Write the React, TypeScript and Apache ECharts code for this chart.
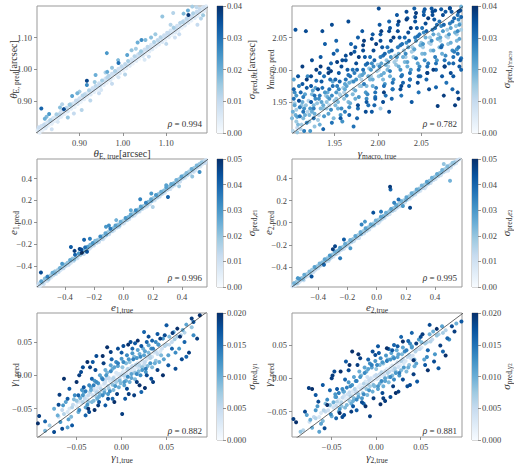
import React, { useEffect, useRef } from 'react';
import * as echarts from 'echarts';

// Each point: [true value, predicted value, predicted sigma]
const thetaEPoints: number[][] = [
  [0.805,0.812,0.006],[0.808,0.801,0.004],[0.812,0.822,0.008],[0.815,0.809,0.003],[0.818,0.826,0.010],[0.822,0.815,0.005],[0.826,0.834,0.007],[0.829,0.823,0.002],[0.833,0.841,0.012],[0.836,0.829,0.004],
  [0.840,0.848,0.006],[0.844,0.838,0.003],[0.847,0.859,0.014],[0.851,0.846,0.005],[0.855,0.862,0.008],[0.858,0.851,0.004],[0.862,0.872,0.009],[0.866,0.860,0.003],[0.870,0.879,0.011],[0.873,0.868,0.006],
  [0.877,0.889,0.015],[0.881,0.876,0.004],[0.885,0.893,0.007],[0.889,0.882,0.003],[0.892,0.902,0.010],[0.896,0.891,0.005],[0.900,0.909,0.008],[0.903,0.897,0.002],[0.907,0.918,0.012],[0.911,0.906,0.004],
  [0.915,0.924,0.006],[0.918,0.913,0.003],[0.922,0.934,0.013],[0.926,0.921,0.005],[0.930,0.941,0.009],[0.934,0.929,0.004],[0.937,0.948,0.011],[0.941,0.936,0.003],[0.945,0.956,0.008],[0.948,0.944,0.005],
  [0.952,0.965,0.014],[0.956,0.951,0.004],[0.960,0.971,0.007],[0.963,0.958,0.003],[0.967,0.980,0.012],[0.971,0.966,0.005],[0.975,0.986,0.009],[0.978,0.973,0.002],[0.982,0.995,0.013],[0.986,0.981,0.004],
  [0.990,1.002,0.008],[0.993,0.988,0.005],[0.997,1.010,0.011],[1.001,0.996,0.003],[1.005,1.017,0.009],[1.008,1.003,0.004],[1.012,1.026,0.014],[1.016,1.011,0.005],[1.020,1.032,0.007],[1.023,1.018,0.003],
  [1.027,1.041,0.012],[1.031,1.026,0.004],[1.035,1.047,0.008],[1.038,1.033,0.002],[1.042,1.057,0.015],[1.046,1.041,0.005],[1.050,1.062,0.009],[1.053,1.048,0.003],[1.057,1.071,0.011],[1.061,1.056,0.004],
  [1.065,1.077,0.007],[1.068,1.063,0.005],[1.072,1.086,0.013],[1.076,1.071,0.003],[1.080,1.092,0.008],[1.083,1.078,0.004],[1.087,1.101,0.012],[1.091,1.086,0.005],[1.095,1.107,0.009],[1.098,1.093,0.003],
  [1.102,1.115,0.010],[1.106,1.101,0.004],[1.110,1.122,0.007],[1.113,1.108,0.002],[1.117,1.131,0.014],[1.121,1.116,0.005],[1.125,1.137,0.008],[1.128,1.123,0.004],[1.132,1.146,0.012],[1.136,1.131,0.003],
  [1.140,1.152,0.009],[1.143,1.138,0.005],[1.147,1.160,0.011],[1.151,1.146,0.004],[1.155,1.167,0.007],[1.158,1.153,0.003],[1.162,1.176,0.013],[1.166,1.161,0.005],[1.170,1.181,0.008],[1.173,1.168,0.004],
  [1.177,1.190,0.010],[1.181,1.176,0.003],[1.185,1.195,0.006],[1.188,1.183,0.004],[1.192,1.198,0.005],
  [0.812,0.877,0.032],[0.820,0.845,0.020],[0.824,0.851,0.018],[0.836,0.812,0.008],[0.864,0.875,0.036],[0.873,0.849,0.016],[0.883,0.916,0.022],[0.887,0.861,0.010],[0.905,0.872,0.012],[0.917,0.964,0.037],
  [0.917,0.951,0.026],[0.925,0.902,0.011],[0.937,0.982,0.020],[0.945,0.925,0.009],[0.963,1.051,0.024],[0.964,0.992,0.021],[0.975,0.955,0.010],[0.989,1.029,0.018],[0.990,1.020,0.030],[1.005,0.984,0.012],
  [1.020,1.060,0.016],[1.034,1.084,0.020],[1.043,1.092,0.026],[1.052,1.092,0.018],[1.060,1.040,0.010],[1.075,1.110,0.015],[1.091,1.166,0.016],[1.100,1.080,0.011],[1.116,1.177,0.012],[1.130,1.110,0.009],
  [1.140,1.175,0.018],[1.151,1.171,0.039],[1.160,1.197,0.014],[1.172,1.140,0.010],[1.180,1.160,0.012],[1.185,1.170,0.015],[0.950,0.935,0.006],[1.010,1.045,0.022],[0.895,0.925,0.019],[0.855,0.880,0.017],
  [0.935,0.960,0.015],[1.065,1.100,0.017],[1.150,1.185,0.020],[0.830,0.860,0.024],[0.975,1.005,0.016],
];
const thetaEPointsB: number[][] = [
  [0.803,0.808,0.003],[0.810,0.815,0.005],[0.817,0.814,0.002],[0.821,0.829,0.006],[0.827,0.826,0.004],[0.832,0.835,0.003],[0.838,0.845,0.007],[0.842,0.840,0.002],[0.849,0.855,0.005],[0.853,0.852,0.003],
  [0.857,0.866,0.008],[0.861,0.858,0.004],[0.868,0.872,0.006],[0.872,0.874,0.002],[0.876,0.880,0.005],[0.880,0.886,0.009],[0.884,0.883,0.003],[0.890,0.896,0.006],[0.894,0.897,0.004],[0.898,0.904,0.007],
  [0.902,0.902,0.003],[0.906,0.912,0.005],[0.910,0.917,0.008],[0.913,0.912,0.002],[0.919,0.926,0.006],[0.923,0.926,0.004],[0.928,0.932,0.005],[0.932,0.939,0.009],[0.936,0.937,0.003],[0.940,0.947,0.006],
  [0.944,0.946,0.002],[0.949,0.955,0.007],[0.953,0.954,0.004],[0.958,0.966,0.008],[0.962,0.963,0.003],[0.966,0.970,0.005],[0.970,0.977,0.007],[0.974,0.975,0.002],[0.979,0.986,0.006],[0.983,0.985,0.004],
  [0.987,0.994,0.008],[0.991,0.992,0.003],[0.995,1.000,0.005],[0.999,1.007,0.009],[1.003,1.005,0.002],[1.007,1.013,0.006],[1.011,1.013,0.004],[1.015,1.022,0.007],[1.019,1.020,0.003],[1.024,1.030,0.006],
  [1.028,1.031,0.002],[1.033,1.041,0.008],[1.037,1.039,0.004],[1.041,1.047,0.005],[1.045,1.052,0.009],[1.049,1.050,0.003],[1.054,1.060,0.006],[1.058,1.061,0.004],[1.062,1.070,0.008],[1.066,1.068,0.002],
  [1.070,1.076,0.005],[1.074,1.081,0.007],[1.078,1.079,0.003],[1.082,1.089,0.006],[1.086,1.088,0.004],[1.090,1.097,0.008],[1.094,1.096,0.002],[1.099,1.105,0.005],[1.103,1.110,0.009],[1.107,1.108,0.003],
  [1.111,1.117,0.006],[1.115,1.118,0.004],[1.119,1.127,0.008],[1.123,1.124,0.002],[1.127,1.133,0.005],[1.131,1.138,0.007],[1.135,1.136,0.003],[1.139,1.146,0.006],[1.144,1.146,0.004],[1.148,1.155,0.008],
  [1.152,1.153,0.002],[1.156,1.162,0.005],[1.160,1.167,0.009],[1.164,1.165,0.003],[1.168,1.175,0.006],[1.172,1.174,0.004],[1.176,1.183,0.008],[1.180,1.182,0.002],[1.184,1.189,0.005],[1.189,1.192,0.004],
  [0.860,0.890,0.012],[0.900,0.930,0.014],[0.960,0.990,0.013],[1.030,1.065,0.014],[1.110,1.140,0.012],[1.170,1.195,0.011],[0.850,0.835,0.006],[0.990,0.975,0.007],[1.120,1.100,0.008],[1.050,1.030,0.006],
];
const thetaEPointsC: number[][] = [
  [0.806,0.818,0.009],[0.814,0.820,0.004],[0.823,0.821,0.006],[0.831,0.838,0.010],[0.839,0.836,0.004],[0.846,0.852,0.007],[0.854,0.858,0.011],[0.863,0.866,0.005],[0.871,0.868,0.003],[0.879,0.890,0.012],
  [0.887,0.890,0.006],[0.895,0.901,0.009],[0.904,0.905,0.004],[0.912,0.922,0.011],[0.920,0.921,0.005],[0.929,0.936,0.008],[0.938,0.943,0.006],[0.946,0.951,0.010],[0.955,0.957,0.004],[0.964,0.974,0.012],
  [0.972,0.972,0.005],[0.981,0.990,0.009],[0.989,0.989,0.003],[0.998,1.004,0.007],[1.006,1.015,0.011],[1.014,1.017,0.005],[1.022,1.027,0.008],[1.030,1.035,0.004],[1.039,1.050,0.012],[1.047,1.049,0.006],
  [1.056,1.064,0.009],[1.064,1.066,0.003],[1.073,1.080,0.007],[1.081,1.091,0.011],[1.089,1.091,0.005],[1.097,1.102,0.008],[1.105,1.114,0.010],[1.114,1.114,0.004],[1.122,1.130,0.009],[1.130,1.132,0.005],
  [1.138,1.149,0.012],[1.146,1.150,0.006],[1.154,1.160,0.008],[1.162,1.164,0.004],[1.171,1.180,0.010],[1.179,1.186,0.006],[1.187,1.194,0.008],
];

const gammaMacroPoints: number[][] = [
  [1.902,1.905,0.012],[1.905,1.930,0.020],[1.903,1.955,0.030],[1.908,1.990,0.035],[1.906,1.920,0.015],[1.909,1.975,0.028],[1.904,1.945,0.022],[1.907,1.910,0.010],[1.905,2.062,0.035],
  [1.912,1.915,0.014],[1.915,1.940,0.025],[1.911,1.965,0.032],[1.918,1.985,0.038],[1.914,1.925,0.018],[1.917,2.060,0.036],[1.913,1.950,0.020],[1.919,1.935,0.012],
  [1.921,1.920,0.015],[1.924,1.935,0.020],[1.927,1.960,0.030],[1.923,1.975,0.034],[1.929,2.000,0.038],[1.926,1.945,0.018],[1.922,1.905,0.024],[1.928,1.955,0.026],
  [1.932,1.930,0.012],[1.935,1.950,0.022],[1.931,1.970,0.036],[1.938,1.990,0.030],[1.934,2.020,0.034],[1.937,1.940,0.016],[1.933,1.915,0.020],[1.939,2.040,0.033],
  [1.941,1.940,0.014],[1.944,1.955,0.024],[1.948,1.975,0.030],[1.943,1.995,0.038],[1.946,2.010,0.032],[1.949,1.925,0.018],[1.942,1.965,0.020],[1.947,2.070,0.036],
  [1.952,1.955,0.016],[1.955,1.970,0.026],[1.951,1.985,0.032],[1.958,2.005,0.036],[1.954,1.940,0.020],[1.957,1.960,0.014],[1.953,2.030,0.030],[1.959,1.920,0.025],
  [1.961,1.965,0.012],[1.964,1.975,0.022],[1.968,1.990,0.030],[1.963,2.015,0.035],[1.966,1.950,0.018],[1.969,2.040,0.032],[1.962,1.935,0.028],[1.967,1.980,0.020],
  [1.972,1.970,0.014],[1.975,1.985,0.025],[1.971,2.000,0.030],[1.978,2.020,0.038],[1.974,1.955,0.020],[1.972,1.912,0.030],[1.977,2.050,0.033],[1.979,1.990,0.018],
  [1.981,1.985,0.012],[1.984,1.995,0.022],[1.988,2.010,0.032],[1.983,2.030,0.036],[1.986,1.965,0.024],[1.989,1.945,0.030],[1.982,2.060,0.034],[1.987,1.975,0.018],
  [1.992,1.990,0.014],[1.995,2.005,0.026],[1.991,2.020,0.030],[1.998,2.040,0.038],[1.994,1.975,0.020],[1.997,1.955,0.032],[2.001,2.095,0.036],[1.993,1.935,0.034],
  [2.001,2.000,0.012],[2.004,2.010,0.022],[2.008,2.025,0.032],[2.003,2.045,0.036],[2.006,1.985,0.018],[2.009,1.960,0.030],[2.002,2.070,0.034],[2.007,1.995,0.020],[2.003,1.940,0.014],
  [2.012,2.005,0.014],[2.015,2.020,0.024],[2.011,2.035,0.030],[2.018,2.050,0.038],[2.014,1.990,0.020],[2.017,1.970,0.028],[2.013,2.075,0.032],[2.013,1.935,0.036],
  [2.021,2.015,0.012],[2.024,2.025,0.020],[2.028,2.040,0.030],[2.023,2.060,0.036],[2.026,2.000,0.025],[2.029,1.980,0.032],[2.022,2.085,0.034],[2.027,1.960,0.030],
  [2.032,2.020,0.014],[2.035,2.035,0.022],[2.031,2.050,0.032],[2.038,2.065,0.038],[2.034,2.005,0.020],[2.037,1.985,0.030],[2.033,2.090,0.036],[2.039,1.950,0.034],
  [2.041,2.030,0.012],[2.044,2.045,0.024],[2.048,2.055,0.030],[2.043,2.075,0.035],[2.046,2.010,0.022],[2.049,1.990,0.032],[2.042,2.095,0.033],[2.047,1.965,0.030],
  [2.052,2.035,0.014],[2.055,2.050,0.020],[2.051,2.065,0.030],[2.058,2.080,0.038],[2.054,2.015,0.026],[2.057,1.995,0.034],[2.053,2.090,0.032],[2.059,1.970,0.036],
  [2.061,2.040,0.012],[2.064,2.055,0.022],[2.068,2.070,0.030],[2.063,2.085,0.036],[2.066,2.020,0.028],[2.067,1.973,0.032],[2.062,2.095,0.034],[2.069,1.944,0.038],
  [2.072,2.045,0.014],[2.075,2.060,0.024],[2.071,2.075,0.030],[2.078,2.090,0.034],[2.074,2.025,0.020],[2.077,2.005,0.036],[2.073,2.035,0.032],[2.079,1.980,0.030],
  [2.081,2.050,0.012],[2.084,2.065,0.022],[2.088,2.080,0.032],[2.083,2.095,0.036],[2.086,2.030,0.026],[2.089,1.945,0.038],[2.082,2.010,0.030],[2.087,1.990,0.034],
  [2.091,2.055,0.014],[2.094,2.070,0.024],[2.092,2.085,0.030],[2.096,2.098,0.020],[2.093,2.035,0.028],[2.095,2.015,0.034],[2.092,1.965,0.036],[2.096,2.000,0.032],
];
const gammaMacroPointsB: number[][] = [
  [1.901,1.925,0.018],[1.904,1.965,0.026],[1.906,1.938,0.014],[1.909,1.952,0.036],[1.903,1.985,0.022],[1.907,1.903,0.016],[1.910,1.928,0.030],
  [1.911,1.908,0.012],[1.914,1.958,0.028],[1.916,1.930,0.020],[1.918,1.972,0.034],[1.913,2.005,0.038],[1.917,1.945,0.016],[1.919,1.990,0.026],
  [1.921,1.930,0.018],[1.923,1.950,0.034],[1.925,1.968,0.022],[1.927,1.912,0.016],[1.929,1.983,0.030],[1.924,2.015,0.036],[1.926,1.940,0.028],
  [1.931,1.922,0.014],[1.933,1.960,0.028],[1.935,1.982,0.034],[1.937,1.945,0.020],[1.939,1.965,0.024],[1.934,2.005,0.038],[1.936,2.060,0.036],
  [1.941,1.950,0.016],[1.943,1.932,0.022],[1.945,1.985,0.030],[1.947,1.960,0.026],[1.949,2.025,0.034],[1.944,1.945,0.012],[1.946,1.998,0.038],
  [1.951,1.945,0.018],[1.953,1.975,0.028],[1.955,1.995,0.034],[1.957,1.930,0.024],[1.959,2.015,0.036],[1.952,2.045,0.032],[1.956,1.962,0.014],
  [1.961,1.955,0.016],[1.963,1.985,0.030],[1.965,2.000,0.034],[1.967,1.942,0.026],[1.969,2.025,0.038],[1.962,1.970,0.020],[1.966,2.075,0.036],
  [1.971,1.962,0.018],[1.973,1.995,0.028],[1.975,2.010,0.036],[1.977,1.940,0.030],[1.979,1.975,0.014],[1.974,2.035,0.034],[1.976,1.925,0.032],
  [1.981,1.975,0.016],[1.983,2.000,0.030],[1.985,2.020,0.034],[1.987,1.955,0.026],[1.989,1.990,0.020],[1.984,2.045,0.038],[1.986,1.935,0.036],
  [1.991,1.985,0.018],[1.993,2.010,0.026],[1.995,2.030,0.036],[1.997,1.965,0.030],[1.999,1.998,0.014],[1.994,2.055,0.034],[1.996,1.945,0.032],
  [2.001,1.990,0.016],[2.003,2.020,0.028],[2.005,2.035,0.034],[2.007,1.975,0.030],[2.009,2.008,0.020],[2.004,2.060,0.038],[2.006,1.950,0.036],
  [2.011,2.000,0.018],[2.013,2.028,0.026],[2.015,2.045,0.036],[2.017,1.980,0.030],[2.019,2.012,0.014],[2.014,2.065,0.034],[2.016,1.955,0.032],
  [2.021,2.008,0.016],[2.023,2.035,0.028],[2.025,2.050,0.034],[2.027,1.990,0.030],[2.029,2.020,0.020],[2.024,2.075,0.038],[2.026,1.970,0.036],
  [2.031,2.012,0.018],[2.033,2.042,0.026],[2.035,2.058,0.036],[2.037,1.995,0.030],[2.039,2.028,0.014],[2.034,2.080,0.034],[2.036,1.975,0.032],
  [2.041,2.020,0.016],[2.043,2.050,0.028],[2.045,2.065,0.034],[2.047,2.000,0.030],[2.049,2.038,0.020],[2.044,2.088,0.038],[2.046,1.980,0.036],
  [2.051,2.025,0.018],[2.053,2.058,0.026],[2.055,2.072,0.036],[2.057,2.005,0.030],[2.059,2.042,0.014],[2.054,2.094,0.034],[2.056,1.985,0.032],
  [2.061,2.030,0.016],[2.063,2.062,0.028],[2.065,2.078,0.034],[2.067,2.010,0.030],[2.069,2.048,0.020],[2.064,2.000,0.038],[2.066,2.092,0.036],
  [2.071,2.035,0.018],[2.073,2.068,0.026],[2.075,2.085,0.036],[2.077,2.015,0.030],[2.079,2.052,0.014],[2.074,1.990,0.034],[2.076,1.960,0.038],
  [2.081,2.040,0.016],[2.083,2.072,0.028],[2.085,2.090,0.034],[2.087,2.020,0.030],[2.089,2.058,0.020],[2.084,1.995,0.036],[2.086,1.970,0.032],
  [2.091,2.045,0.018],[2.093,2.078,0.026],[2.095,2.092,0.036],[2.092,2.025,0.030],[2.096,2.062,0.014],[2.094,2.005,0.034],[2.093,1.955,0.038],
];
const gammaMacroPointsC: number[][] = [
  [1.902,1.935,0.020],[1.904,1.948,0.014],[1.906,1.960,0.024],[1.908,1.915,0.018],[1.910,1.942,0.028],[1.903,1.970,0.032],[1.907,1.927,0.022],
  [1.912,1.945,0.016],[1.914,1.935,0.030],[1.916,1.962,0.022],[1.918,1.918,0.026],[1.920,1.952,0.012],[1.913,1.978,0.034],[1.915,1.905,0.028],
  [1.922,1.940,0.024],[1.924,1.962,0.018],[1.926,1.925,0.030],[1.928,1.972,0.022],[1.930,1.948,0.016],[1.923,1.990,0.036],[1.927,1.932,0.020],
  [1.932,1.955,0.026],[1.934,1.940,0.018],[1.936,1.972,0.030],[1.938,1.928,0.024],[1.940,1.960,0.014],[1.933,1.995,0.034],[1.937,1.908,0.032],
  [1.942,1.958,0.020],[1.944,1.970,0.030],[1.946,1.938,0.026],[1.948,1.982,0.022],[1.950,1.952,0.016],[1.943,2.002,0.036],[1.947,1.918,0.030],
  [1.952,1.965,0.024],[1.954,1.950,0.018],[1.956,1.982,0.032],[1.958,1.940,0.026],[1.960,1.972,0.014],[1.953,2.012,0.038],[1.957,1.925,0.034],
  [1.962,1.978,0.022],[1.964,1.960,0.026],[1.966,1.992,0.030],[1.968,1.948,0.020],[1.970,1.982,0.016],[1.963,2.022,0.036],[1.967,1.930,0.032],
  [1.972,1.982,0.026],[1.974,1.968,0.020],[1.976,2.000,0.032],[1.978,1.958,0.024],[1.980,1.992,0.014],[1.973,2.028,0.034],[1.977,1.945,0.036],
  [1.982,1.992,0.022],[1.984,1.978,0.028],[1.986,2.008,0.030],[1.988,1.962,0.026],[1.990,2.002,0.016],[1.983,2.038,0.038],[1.987,1.950,0.034],
  [1.992,2.000,0.024],[1.994,1.985,0.020],[1.996,2.015,0.032],[1.998,1.972,0.028],[2.000,2.008,0.014],[1.993,2.048,0.036],[1.997,1.958,0.030],
  [2.002,2.005,0.026],[2.004,1.992,0.020],[2.006,2.022,0.030],[2.008,1.978,0.024],[2.010,2.015,0.016],[2.003,2.055,0.034],[2.007,1.965,0.038],
  [2.012,2.012,0.022],[2.014,1.998,0.028],[2.016,2.030,0.032],[2.018,1.985,0.026],[2.020,2.022,0.014],[2.013,2.060,0.036],[2.017,1.970,0.030],
  [2.022,2.020,0.024],[2.024,2.005,0.020],[2.026,2.038,0.030],[2.028,1.992,0.028],[2.030,2.030,0.016],[2.023,2.070,0.034],[2.027,1.975,0.036],
  [2.032,2.025,0.026],[2.034,2.012,0.022],[2.036,2.045,0.032],[2.038,2.000,0.024],[2.040,2.035,0.014],[2.033,2.078,0.038],[2.037,1.985,0.030],
  [2.042,2.032,0.022],[2.044,2.018,0.028],[2.046,2.052,0.030],[2.048,2.005,0.026],[2.050,2.042,0.016],[2.043,2.082,0.036],[2.047,1.990,0.034],
  [2.052,2.040,0.024],[2.054,2.025,0.020],[2.056,2.060,0.032],[2.058,2.010,0.028],[2.060,2.050,0.014],[2.053,2.085,0.034],[2.057,1.995,0.038],
  [2.062,2.045,0.026],[2.064,2.030,0.022],[2.066,2.065,0.030],[2.068,2.015,0.024],[2.070,2.055,0.016],[2.063,2.090,0.036],[2.067,2.000,0.032],
  [2.072,2.050,0.022],[2.074,2.038,0.028],[2.076,2.070,0.032],[2.078,2.022,0.026],[2.080,2.062,0.014],[2.073,2.094,0.034],[2.077,2.005,0.038],
  [2.082,2.055,0.024],[2.084,2.042,0.020],[2.086,2.075,0.030],[2.088,2.028,0.028],[2.090,2.068,0.016],[2.083,2.096,0.036],[2.087,2.010,0.032],
  [2.092,2.060,0.026],[2.094,2.048,0.022],[2.096,2.082,0.032],[2.091,2.032,0.024],[2.095,2.072,0.014],[2.093,2.090,0.036],[2.096,2.018,0.030],
];

const e1Points: number[][] = [
  [-0.580,-0.560,0.012],[-0.572,-0.585,0.008],[-0.563,-0.540,0.028],[-0.555,-0.548,0.015],[-0.546,-0.565,0.010],[-0.538,-0.515,0.022],[-0.530,-0.531,0.006],[-0.521,-0.498,0.035],[-0.512,-0.525,0.012],[-0.503,-0.490,0.018],
  [-0.495,-0.505,0.008],[-0.486,-0.462,0.025],[-0.478,-0.482,0.014],[-0.470,-0.450,0.020],[-0.461,-0.474,0.009],[-0.452,-0.440,0.016],[-0.444,-0.455,0.011],[-0.435,-0.418,0.024],[-0.427,-0.432,0.007],[-0.418,-0.402,0.019],
  [-0.410,-0.422,0.013],[-0.401,-0.388,0.021],[-0.392,-0.398,0.010],[-0.384,-0.372,0.017],[-0.375,-0.389,0.012],[-0.366,-0.345,0.026],[-0.358,-0.360,0.008],[-0.349,-0.331,0.020],[-0.340,-0.352,0.014],[-0.332,-0.298,0.040],
  [-0.323,-0.318,0.018],[-0.315,-0.330,0.010],[-0.306,-0.285,0.030],[-0.297,-0.302,0.015],[-0.289,-0.250,0.045],[-0.280,-0.275,0.020],[-0.271,-0.290,0.012],[-0.263,-0.230,0.038],[-0.254,-0.259,0.016],[-0.246,-0.225,0.028],
  [-0.237,-0.248,0.010],[-0.228,-0.205,0.024],[-0.220,-0.222,0.013],[-0.211,-0.190,0.030],[-0.202,-0.212,0.009],[-0.194,-0.170,0.022],[-0.185,-0.188,0.015],[-0.176,-0.160,0.018],[-0.168,-0.180,0.011],[-0.159,-0.130,0.033],
  [-0.150,-0.152,0.014],[-0.142,-0.125,0.020],[-0.133,-0.145,0.008],[-0.124,-0.100,0.027],[-0.116,-0.118,0.013],[-0.107,-0.090,0.019],[-0.098,-0.110,0.010],[-0.090,-0.060,0.036],[-0.081,-0.079,0.016],[-0.072,-0.055,0.022],
  [-0.064,-0.072,0.009],[-0.055,-0.030,0.028],[-0.046,-0.049,0.014],[-0.038,-0.020,0.020],[-0.029,-0.040,0.011],[-0.020,0.005,0.025],[-0.012,-0.010,0.013],[-0.003,0.015,0.018],[0.006,-0.005,0.008],[0.014,0.040,0.030],
  [0.023,0.021,0.015],[0.032,0.048,0.020],[0.040,0.030,0.010],[0.049,0.072,0.026],[0.058,0.055,0.013],[0.066,0.082,0.018],[0.075,0.062,0.009],[0.084,0.110,0.032],[0.092,0.090,0.015],[0.101,0.118,0.021],
  [0.110,0.098,0.011],[0.118,0.145,0.028],[0.127,0.125,0.014],[0.136,0.150,0.019],[0.144,0.132,0.008],[0.153,0.180,0.034],[0.162,0.160,0.016],[0.170,0.188,0.022],[0.179,0.166,0.010],[0.188,0.212,0.027],
  [0.196,0.194,0.013],[0.205,0.222,0.018],[0.214,0.201,0.009],[0.222,0.250,0.030],[0.231,0.229,0.015],[0.240,0.255,0.020],[0.248,0.236,0.011],[0.257,0.280,0.025],[0.266,0.262,0.012],[0.274,0.290,0.017],
  [0.283,0.270,0.008],[0.292,0.318,0.028],[0.300,0.298,0.014],[0.309,0.325,0.021],[0.318,0.305,0.010],[0.326,0.350,0.026],[0.335,0.332,0.013],[0.344,0.360,0.019],[0.352,0.340,0.009],[0.361,0.388,0.024],
  [0.370,0.366,0.015],[0.378,0.395,0.018],[0.387,0.374,0.011],[0.396,0.420,0.027],[0.404,0.400,0.012],[0.413,0.428,0.020],[0.422,0.408,0.008],[0.430,0.452,0.022],[0.439,0.435,0.014],[0.448,0.465,0.017],
  [0.456,0.444,0.010],[0.465,0.488,0.025],[0.474,0.470,0.013],[0.482,0.498,0.019],[0.491,0.478,0.009],[0.500,0.520,0.023],[0.508,0.505,0.011],[0.517,0.532,0.016],[0.526,0.512,0.008],[0.534,0.550,0.020],
  [0.543,0.540,0.010],[0.552,0.562,0.014],[0.560,0.568,0.006],
  [-0.565,-0.460,0.045],[-0.360,-0.226,0.042],[-0.335,-0.262,0.048],[-0.300,-0.245,0.046],[-0.270,-0.160,0.040],[-0.230,-0.150,0.035],[-0.285,-0.280,0.050],[-0.250,-0.270,0.044],[-0.120,-0.040,0.030],[-0.100,-0.030,0.032],
  [0.114,0.211,0.034],[0.190,0.263,0.030],[0.292,0.339,0.028],[0.304,0.232,0.040],[0.520,0.461,0.032],[0.470,0.420,0.020],[0.050,0.110,0.026],[-0.050,0.020,0.024],[0.200,0.140,0.016],[-0.420,-0.380,0.030],[0.380,0.330,0.018],
];
const e1PointsB: number[][] = [
  [-0.585,-0.578,0.006],[-0.568,-0.560,0.010],[-0.551,-0.540,0.014],[-0.534,-0.540,0.008],[-0.517,-0.508,0.012],[-0.500,-0.495,0.016],[-0.483,-0.490,0.006],[-0.466,-0.458,0.010],[-0.449,-0.441,0.018],[-0.432,-0.440,0.008],
  [-0.415,-0.410,0.012],[-0.398,-0.390,0.015],[-0.381,-0.388,0.007],[-0.364,-0.356,0.011],[-0.347,-0.338,0.017],[-0.330,-0.336,0.009],[-0.313,-0.305,0.013],[-0.296,-0.286,0.020],[-0.279,-0.286,0.008],[-0.262,-0.255,0.014],
  [-0.245,-0.235,0.018],[-0.228,-0.236,0.009],[-0.211,-0.203,0.012],[-0.194,-0.184,0.016],[-0.177,-0.184,0.007],[-0.160,-0.152,0.011],[-0.143,-0.134,0.019],[-0.126,-0.133,0.008],[-0.109,-0.100,0.013],[-0.092,-0.083,0.017],
  [-0.075,-0.082,0.009],[-0.058,-0.050,0.012],[-0.041,-0.032,0.018],[-0.024,-0.030,0.007],[-0.007,0.002,0.011],[0.010,0.018,0.016],[0.027,0.020,0.008],[0.044,0.052,0.013],[0.061,0.070,0.019],[0.078,0.072,0.009],
  [0.095,0.104,0.012],[0.112,0.120,0.017],[0.129,0.122,0.007],[0.146,0.155,0.011],[0.163,0.172,0.018],[0.180,0.173,0.009],[0.197,0.206,0.013],[0.214,0.224,0.016],[0.231,0.224,0.008],[0.248,0.256,0.012],
  [0.265,0.274,0.019],[0.282,0.276,0.007],[0.299,0.308,0.011],[0.316,0.325,0.017],[0.333,0.326,0.009],[0.350,0.358,0.013],[0.367,0.376,0.016],[0.384,0.377,0.008],[0.401,0.410,0.012],[0.418,0.428,0.018],
  [0.435,0.428,0.007],[0.452,0.460,0.011],[0.469,0.478,0.017],[0.486,0.480,0.009],[0.503,0.511,0.013],[0.520,0.528,0.016],[0.537,0.532,0.008],[0.554,0.548,0.012],[0.565,0.570,0.010],
  [-0.520,-0.535,0.010],[-0.440,-0.425,0.014],[-0.360,-0.372,0.009],[-0.200,-0.185,0.015],[-0.140,-0.155,0.010],[-0.060,-0.045,0.016],[0.000,-0.012,0.009],[0.080,0.095,0.015],[0.160,0.145,0.010],[0.240,0.262,0.016],
  [0.320,0.305,0.010],[0.400,0.420,0.016],[0.480,0.462,0.010],[0.560,0.545,0.012],
];
const e1PointsC: number[][] = [
  [-0.576,-0.566,0.014],[-0.558,-0.552,0.018],[-0.536,-0.528,0.012],[-0.514,-0.518,0.020],[-0.492,-0.480,0.014],[-0.470,-0.466,0.022],[-0.448,-0.452,0.012],[-0.426,-0.414,0.018],[-0.404,-0.404,0.014],[-0.382,-0.370,0.020],
  [-0.360,-0.352,0.016],[-0.338,-0.340,0.022],[-0.316,-0.302,0.014],[-0.294,-0.292,0.018],[-0.272,-0.262,0.024],[-0.250,-0.246,0.014],[-0.228,-0.214,0.020],[-0.206,-0.204,0.016],[-0.184,-0.172,0.022],[-0.162,-0.160,0.014],
  [-0.140,-0.128,0.018],[-0.118,-0.112,0.024],[-0.096,-0.096,0.014],[-0.074,-0.062,0.020],[-0.052,-0.044,0.016],[-0.030,-0.028,0.022],[-0.008,0.006,0.014],[0.014,0.020,0.018],[0.036,0.046,0.024],[0.058,0.062,0.014],
  [0.080,0.090,0.020],[0.102,0.104,0.016],[0.124,0.136,0.022],[0.146,0.148,0.014],[0.168,0.178,0.018],[0.190,0.196,0.024],[0.212,0.214,0.014],[0.234,0.246,0.020],[0.256,0.260,0.016],[0.278,0.290,0.022],
  [0.300,0.304,0.014],[0.322,0.334,0.018],[0.344,0.350,0.024],[0.366,0.368,0.014],[0.388,0.400,0.020],[0.410,0.414,0.016],[0.432,0.444,0.022],[0.454,0.458,0.014],[0.476,0.488,0.018],[0.498,0.500,0.014],
  [0.520,0.532,0.020],[0.542,0.548,0.012],
];

const e2Points: number[][] = [
  [-0.575,-0.570,0.010],[-0.566,-0.545,0.024],[-0.557,-0.562,0.008],[-0.548,-0.530,0.018],[-0.540,-0.548,0.012],[-0.531,-0.505,0.030],[-0.522,-0.520,0.014],[-0.513,-0.498,0.020],[-0.505,-0.512,0.009],[-0.496,-0.470,0.026],
  [-0.487,-0.490,0.011],[-0.478,-0.462,0.017],[-0.470,-0.480,0.007],[-0.461,-0.440,0.022],[-0.452,-0.455,0.013],[-0.443,-0.425,0.019],[-0.435,-0.446,0.010],[-0.426,-0.400,0.028],[-0.417,-0.420,0.012],[-0.408,-0.392,0.020],
  [-0.400,-0.410,0.008],[-0.391,-0.368,0.024],[-0.382,-0.385,0.014],[-0.373,-0.356,0.018],[-0.365,-0.376,0.011],[-0.356,-0.330,0.027],[-0.347,-0.350,0.013],[-0.338,-0.320,0.021],[-0.330,-0.342,0.009],[-0.321,-0.295,0.030],
  [-0.312,-0.315,0.016],[-0.303,-0.286,0.020],[-0.295,-0.305,0.010],[-0.286,-0.260,0.025],[-0.277,-0.280,0.014],[-0.268,-0.252,0.018],[-0.260,-0.270,0.009],[-0.251,-0.225,0.028],[-0.242,-0.245,0.012],[-0.233,-0.218,0.019],
  [-0.225,-0.236,0.010],[-0.216,-0.190,0.026],[-0.207,-0.210,0.013],[-0.198,-0.182,0.017],[-0.190,-0.201,0.008],[-0.181,-0.155,0.024],[-0.172,-0.175,0.014],[-0.163,-0.148,0.020],[-0.155,-0.166,0.011],[-0.146,-0.120,0.027],
  [-0.137,-0.140,0.012],[-0.128,-0.112,0.018],[-0.120,-0.131,0.009],[-0.111,-0.085,0.025],[-0.102,-0.105,0.013],[-0.093,-0.076,0.019],[-0.085,-0.096,0.010],[-0.076,-0.050,0.028],[-0.067,-0.070,0.015],[-0.058,-0.042,0.021],
  [-0.050,-0.061,0.011],[-0.041,-0.015,0.026],[-0.032,-0.035,0.012],[-0.023,-0.006,0.018],[-0.015,-0.026,0.009],[-0.006,0.020,0.024],[0.003,0.000,0.013],[0.012,0.028,0.019],[0.020,0.009,0.010],[0.029,0.055,0.027],
  [0.038,0.035,0.014],[0.047,0.063,0.020],[0.055,0.044,0.011],[0.064,0.090,0.025],[0.073,0.070,0.013],[0.082,0.098,0.018],[0.090,0.079,0.009],[0.099,0.125,0.028],[0.108,0.105,0.015],[0.117,0.133,0.020],
  [0.125,0.114,0.010],[0.134,0.160,0.026],[0.143,0.140,0.012],[0.152,0.168,0.019],[0.160,0.149,0.008],[0.169,0.195,0.024],[0.178,0.175,0.014],[0.187,0.203,0.017],[0.195,0.184,0.010],[0.204,0.230,0.027],
  [0.213,0.210,0.013],[0.222,0.238,0.019],[0.230,0.219,0.009],[0.239,0.265,0.025],[0.248,0.245,0.015],[0.257,0.273,0.020],[0.265,0.254,0.011],[0.274,0.300,0.026],[0.283,0.280,0.012],[0.292,0.308,0.018],
  [0.300,0.289,0.009],[0.309,0.335,0.024],[0.318,0.315,0.014],[0.327,0.343,0.019],[0.335,0.324,0.010],[0.344,0.370,0.028],[0.353,0.350,0.013],[0.362,0.378,0.020],[0.370,0.359,0.011],[0.379,0.405,0.025],
  [0.388,0.385,0.012],[0.397,0.413,0.017],[0.405,0.394,0.009],[0.414,0.440,0.026],[0.423,0.420,0.014],[0.432,0.448,0.019],[0.440,0.429,0.010],[0.449,0.475,0.024],[0.458,0.455,0.013],[0.467,0.483,0.018],
  [0.475,0.464,0.008],[0.484,0.510,0.022],[0.493,0.490,0.012],[0.502,0.518,0.016],[0.510,0.499,0.009],[0.519,0.540,0.020],[0.528,0.525,0.011],[0.537,0.550,0.014],[0.545,0.536,0.007],[0.554,0.565,0.012],
  [0.570,0.572,0.006],
  [0.092,0.324,0.048],[0.095,0.300,0.040],[0.229,0.136,0.046],[-0.023,0.091,0.044],[-0.361,-0.379,0.040],[-0.285,-0.213,0.046],[-0.300,-0.240,0.048],[-0.224,-0.152,0.042],[-0.446,-0.485,0.044],[0.503,0.378,0.024],
  [0.460,0.530,0.020],[-0.103,-0.016,0.034],[-0.080,0.010,0.030],[0.150,0.210,0.038],[0.180,0.150,0.030],[-0.250,-0.320,0.036],[-0.540,-0.500,0.030],[0.030,0.100,0.036],[0.120,0.180,0.034],[-0.180,-0.230,0.030],
];
const e2PointsB: number[][] = [
  [-0.578,-0.575,0.005],[-0.561,-0.552,0.011],[-0.544,-0.536,0.015],[-0.527,-0.533,0.007],[-0.510,-0.502,0.013],[-0.493,-0.484,0.017],[-0.476,-0.482,0.008],[-0.459,-0.451,0.012],[-0.442,-0.432,0.018],[-0.425,-0.431,0.009],
  [-0.408,-0.400,0.011],[-0.391,-0.382,0.016],[-0.374,-0.380,0.007],[-0.357,-0.349,0.013],[-0.340,-0.330,0.019],[-0.323,-0.329,0.008],[-0.306,-0.298,0.012],[-0.289,-0.280,0.015],[-0.272,-0.278,0.009],[-0.255,-0.247,0.013],
  [-0.238,-0.228,0.017],[-0.221,-0.227,0.007],[-0.204,-0.196,0.011],[-0.187,-0.177,0.018],[-0.170,-0.176,0.008],[-0.153,-0.145,0.012],[-0.136,-0.126,0.016],[-0.119,-0.125,0.009],[-0.102,-0.094,0.013],[-0.085,-0.075,0.019],
  [-0.068,-0.074,0.007],[-0.051,-0.043,0.011],[-0.034,-0.024,0.017],[-0.017,-0.023,0.008],[0.000,0.008,0.012],[0.017,0.027,0.016],[0.034,0.028,0.009],[0.051,0.059,0.013],[0.068,0.078,0.018],[0.085,0.079,0.007],
  [0.102,0.110,0.011],[0.119,0.129,0.017],[0.136,0.130,0.008],[0.153,0.161,0.012],[0.170,0.180,0.016],[0.187,0.181,0.009],[0.204,0.212,0.013],[0.221,0.231,0.019],[0.238,0.232,0.007],[0.255,0.263,0.011],
  [0.272,0.282,0.017],[0.289,0.283,0.008],[0.306,0.314,0.012],[0.323,0.333,0.016],[0.340,0.334,0.009],[0.357,0.365,0.013],[0.374,0.384,0.018],[0.391,0.385,0.007],[0.408,0.416,0.011],[0.425,0.435,0.017],
  [0.442,0.436,0.008],[0.459,0.467,0.012],[0.476,0.486,0.016],[0.493,0.487,0.009],[0.510,0.518,0.013],[0.527,0.537,0.015],[0.544,0.538,0.008],[0.561,0.568,0.010],
  [-0.500,-0.520,0.012],[-0.420,-0.405,0.015],[-0.330,-0.345,0.010],[-0.180,-0.165,0.016],[-0.120,-0.138,0.010],[-0.040,-0.025,0.015],[0.010,-0.005,0.009],[0.090,0.108,0.016],[0.170,0.152,0.010],[0.250,0.268,0.015],
  [0.330,0.312,0.010],[0.410,0.428,0.016],[0.490,0.470,0.010],[0.550,0.560,0.012],
];
const e2PointsC: number[][] = [
  [-0.570,-0.558,0.016],[-0.548,-0.544,0.020],[-0.526,-0.518,0.012],[-0.504,-0.508,0.022],[-0.482,-0.470,0.014],[-0.460,-0.458,0.018],[-0.438,-0.440,0.012],[-0.416,-0.404,0.020],[-0.394,-0.392,0.014],[-0.372,-0.362,0.022],
  [-0.350,-0.344,0.016],[-0.328,-0.330,0.020],[-0.306,-0.292,0.014],[-0.284,-0.282,0.018],[-0.262,-0.250,0.024],[-0.240,-0.236,0.014],[-0.218,-0.206,0.020],[-0.196,-0.194,0.016],[-0.174,-0.162,0.022],[-0.152,-0.150,0.014],
  [-0.130,-0.118,0.018],[-0.108,-0.102,0.024],[-0.086,-0.086,0.014],[-0.064,-0.052,0.020],[-0.042,-0.034,0.016],[-0.020,-0.018,0.022],[0.002,0.016,0.014],[0.024,0.030,0.018],[0.046,0.056,0.024],[0.068,0.072,0.014],
  [0.090,0.100,0.020],[0.112,0.114,0.016],[0.134,0.146,0.022],[0.156,0.158,0.014],[0.178,0.188,0.018],[0.200,0.206,0.024],[0.222,0.224,0.014],[0.244,0.256,0.020],[0.266,0.270,0.016],[0.288,0.300,0.022],
  [0.310,0.314,0.014],[0.332,0.344,0.018],[0.354,0.360,0.024],[0.376,0.378,0.014],[0.398,0.410,0.020],[0.420,0.424,0.016],[0.442,0.454,0.022],[0.464,0.468,0.014],[0.486,0.498,0.018],[0.508,0.510,0.014],
  [0.530,0.542,0.020],[0.552,0.556,0.012],
];

const gamma1Points: number[][] = [
  [-0.070,-0.062,0.004],[-0.064,-0.058,0.006],[-0.058,-0.050,0.003],[-0.054,-0.044,0.005],[-0.050,-0.046,0.002],[-0.046,-0.038,0.004],[-0.043,-0.040,0.006],[-0.040,-0.032,0.003],[-0.037,-0.030,0.005],[-0.034,-0.028,0.002],
  [-0.031,-0.022,0.004],[-0.028,-0.026,0.006],[-0.026,-0.018,0.003],[-0.023,-0.020,0.005],[-0.020,-0.014,0.002],[-0.018,-0.010,0.004],[-0.015,-0.016,0.006],[-0.013,-0.008,0.003],[-0.010,-0.006,0.005],[-0.008,-0.002,0.002],
  [-0.005,-0.007,0.004],[-0.003,0.002,0.003],[0.000,0.000,0.005],[0.002,0.006,0.002],[0.005,0.002,0.004],[0.007,0.010,0.006],[0.010,0.007,0.003],[0.012,0.014,0.005],[0.015,0.011,0.002],[0.018,0.018,0.004],
  [0.020,0.015,0.006],[0.023,0.022,0.003],[0.026,0.020,0.005],[0.029,0.028,0.004],[0.032,0.026,0.006],[0.036,0.034,0.003],[0.040,0.032,0.005],[0.045,0.040,0.004],[0.050,0.046,0.006],[0.056,0.050,0.005],
  [0.062,0.058,0.007],[0.070,0.064,0.006],[0.078,0.072,0.008],[-0.080,-0.075,0.007],[-0.006,0.004,0.003],[0.004,-0.004,0.004],[-0.017,-0.005,0.005],[0.013,0.004,0.004],
  [-0.075,-0.050,0.010],[-0.068,-0.070,0.012],[-0.062,-0.040,0.011],[-0.056,-0.062,0.009],[-0.052,-0.030,0.013],[-0.048,-0.055,0.010],[-0.044,-0.022,0.012],[-0.040,-0.048,0.011],[-0.036,-0.015,0.013],[-0.033,-0.040,0.009],
  [-0.030,-0.008,0.012],[-0.027,-0.035,0.010],[-0.024,0.000,0.011],[-0.021,-0.030,0.013],[-0.018,0.008,0.010],[-0.015,-0.028,0.012],[-0.012,0.015,0.011],[-0.009,-0.022,0.009],[-0.006,0.020,0.013],[-0.003,-0.018,0.010],
  [0.000,0.025,0.012],[0.003,-0.015,0.011],[0.006,0.030,0.013],[0.009,-0.010,0.010],[0.012,0.033,0.012],[0.015,-0.006,0.009],[0.018,0.038,0.011],[0.021,0.000,0.013],[0.024,0.040,0.010],[0.027,0.005,0.012],
  [0.030,0.045,0.011],[0.034,0.012,0.009],[0.038,0.050,0.013],[0.042,0.020,0.010],[0.046,0.055,0.012],[0.052,0.030,0.011],[0.058,0.065,0.010],[0.064,0.040,0.012],[0.072,0.076,0.011],[0.080,0.060,0.013],
  [-0.060,-0.078,0.011],[-0.085,-0.083,0.009],
  [-0.0916,-0.061,0.019],[-0.093,-0.072,0.020],[-0.085,-0.069,0.016],[-0.070,-0.044,0.018],[-0.064,-0.005,0.020],[-0.069,-0.029,0.019],[-0.058,-0.020,0.017],[-0.050,-0.010,0.020],[-0.045,0.005,0.018],[-0.040,-0.060,0.016],
  [-0.035,0.012,0.019],[-0.030,-0.052,0.020],[-0.028,0.029,0.018],[-0.021,0.029,0.020],[-0.018,-0.045,0.017],[-0.012,0.035,0.019],[-0.008,-0.040,0.020],[-0.004,0.040,0.018],[0.0007,-0.058,0.019],[0.0074,0.046,0.020],
  [0.004,-0.035,0.017],[0.010,0.050,0.018],[0.014,-0.030,0.019],[0.018,0.052,0.020],[0.022,-0.025,0.016],[0.026,-0.019,0.020],[0.030,0.058,0.018],[0.035,-0.010,0.019],[0.040,0.062,0.017],[0.046,0.000,0.020],
  [0.0567,0.0634,0.019],[0.065,0.058,0.020],[0.067,0.024,0.018],[0.075,0.034,0.019],[0.087,0.090,0.020],[0.080,0.080,0.017],[0.070,0.050,0.016],[0.060,0.010,0.018],[-0.055,-0.075,0.017],[-0.075,-0.085,0.018],
  [0.050,0.075,0.017],[0.084,0.055,0.019],[-0.038,0.020,0.020],[0.025,0.065,0.016],
];
const gamma1PointsB: number[][] = [
  [-0.066,-0.052,0.005],[-0.060,-0.055,0.003],[-0.055,-0.048,0.006],[-0.049,-0.040,0.004],[-0.045,-0.042,0.002],[-0.041,-0.035,0.005],[-0.038,-0.036,0.003],[-0.035,-0.025,0.006],[-0.032,-0.030,0.004],[-0.029,-0.020,0.002],
  [-0.027,-0.024,0.005],[-0.024,-0.016,0.003],[-0.022,-0.022,0.006],[-0.019,-0.012,0.004],[-0.016,-0.018,0.002],[-0.014,-0.004,0.005],[-0.011,-0.012,0.003],[-0.009,-0.004,0.006],[-0.007,-0.010,0.004],[-0.004,0.000,0.002],
  [-0.002,-0.005,0.005],[0.001,0.004,0.003],[0.003,0.000,0.006],[0.006,0.008,0.004],[0.008,0.003,0.002],[0.011,0.012,0.005],[0.014,0.008,0.003],[0.016,0.016,0.006],[0.019,0.012,0.004],[0.022,0.020,0.002],
  [0.025,0.016,0.005],[0.028,0.024,0.003],[0.031,0.030,0.006],[0.034,0.028,0.004],[0.038,0.036,0.005],[0.043,0.036,0.003],[0.048,0.044,0.006],[0.053,0.046,0.005],[0.059,0.054,0.007],[0.066,0.060,0.006],
  [-0.071,-0.060,0.010],[-0.065,-0.045,0.012],[-0.059,-0.066,0.011],[-0.053,-0.036,0.009],[-0.047,-0.052,0.013],[-0.042,-0.026,0.010],[-0.038,-0.044,0.012],[-0.034,-0.018,0.011],[-0.031,-0.038,0.009],[-0.028,-0.010,0.013],
  [-0.025,-0.032,0.010],[-0.022,-0.004,0.012],[-0.019,-0.026,0.011],[-0.016,0.004,0.009],[-0.013,-0.024,0.013],[-0.010,0.010,0.010],[-0.007,-0.016,0.012],[-0.004,0.014,0.011],[-0.001,-0.012,0.009],[0.002,0.020,0.013],
  [0.005,-0.008,0.010],[0.008,0.024,0.012],[0.011,-0.004,0.011],[0.014,0.028,0.009],[0.017,0.002,0.013],[0.020,0.032,0.010],[0.023,0.008,0.012],[0.026,0.036,0.011],[0.029,0.014,0.009],[0.033,0.040,0.013],
  [0.037,0.018,0.010],[0.041,0.046,0.012],[0.047,0.024,0.011],[0.053,0.058,0.009],[0.060,0.034,0.013],[0.068,0.068,0.010],
  [-0.048,-0.030,0.016],[-0.043,0.012,0.018],[-0.037,-0.050,0.020],[-0.032,0.020,0.017],[-0.026,-0.045,0.019],[-0.016,0.042,0.020],[-0.010,-0.035,0.016],[0.002,0.044,0.018],[0.008,-0.028,0.019],[0.015,0.048,0.017],
  [0.020,-0.015,0.020],[0.028,0.050,0.016],[0.033,-0.005,0.018],[0.043,0.055,0.019],[0.052,0.015,0.017],[0.062,0.070,0.020],[0.072,0.028,0.016],[0.078,0.085,0.019],[-0.060,-0.035,0.017],[-0.066,-0.080,0.018],
];
const gamma1PointsC: number[][] = [
  [-0.050,-0.038,0.008],[-0.046,-0.034,0.010],[-0.043,-0.030,0.012],[-0.040,-0.024,0.014],[-0.037,-0.040,0.008],[-0.034,-0.022,0.010],[-0.031,-0.015,0.014],[-0.028,-0.032,0.007],[-0.026,-0.012,0.012],[-0.024,-0.028,0.009],
  [-0.021,-0.006,0.014],[-0.019,-0.022,0.008],[-0.017,0.000,0.012],[-0.014,-0.020,0.007],[-0.012,0.006,0.013],[-0.010,-0.014,0.008],[-0.008,0.012,0.011],[-0.006,-0.010,0.007],[-0.004,0.018,0.014],[-0.002,-0.008,0.009],
  [0.001,0.012,0.008],[0.003,-0.010,0.012],[0.005,0.018,0.009],[0.007,-0.002,0.013],[0.009,0.020,0.008],[0.011,0.002,0.011],[0.013,0.024,0.014],[0.015,0.004,0.008],[0.017,0.026,0.012],[0.019,0.006,0.009],
  [0.021,0.028,0.013],[0.023,0.012,0.008],[0.025,0.030,0.011],[0.027,0.010,0.014],[0.030,0.034,0.009],[0.032,0.018,0.012],[0.035,0.040,0.014],[0.038,0.022,0.008],[0.041,0.046,0.011],[0.044,0.030,0.009],
  [-0.033,-0.005,0.016],[-0.029,0.008,0.018],[-0.025,-0.040,0.017],[-0.020,0.018,0.019],[-0.015,-0.035,0.018],[-0.011,0.024,0.016],[-0.005,-0.028,0.019],[0.000,0.034,0.017],[0.006,-0.020,0.018],[0.012,0.040,0.016],
  [0.017,-0.010,0.019],[0.022,0.044,0.017],[0.028,0.000,0.018],[0.034,0.052,0.016],[0.040,0.008,0.019],[0.048,0.060,0.018],[-0.042,-0.018,0.017],[-0.047,0.000,0.019],[-0.036,-0.055,0.018],[0.056,0.040,0.016],
];

const gamma2Points: number[][] = [
  [-0.075,-0.065,0.004],[-0.068,-0.060,0.006],[-0.062,-0.052,0.003],[-0.057,-0.050,0.005],[-0.052,-0.042,0.002],[-0.048,-0.044,0.004],[-0.044,-0.035,0.006],[-0.041,-0.038,0.003],[-0.038,-0.029,0.005],[-0.035,-0.031,0.002],
  [-0.032,-0.024,0.004],[-0.029,-0.027,0.006],[-0.026,-0.019,0.003],[-0.023,-0.022,0.005],[-0.020,-0.013,0.002],[-0.017,-0.016,0.004],[-0.014,-0.008,0.006],[-0.011,-0.011,0.003],[-0.008,-0.003,0.005],[-0.005,-0.006,0.002],
  [-0.002,0.003,0.004],[0.001,-0.001,0.003],[0.004,0.006,0.005],[0.007,0.003,0.002],[0.010,0.011,0.004],[0.013,0.008,0.006],[0.016,0.016,0.003],[0.019,0.012,0.005],[0.022,0.021,0.002],[0.025,0.017,0.004],
  [0.028,0.026,0.006],[0.031,0.023,0.003],[0.035,0.032,0.005],[0.039,0.030,0.004],[0.044,0.040,0.006],[0.049,0.044,0.005],[0.055,0.052,0.007],[0.061,0.055,0.006],[0.068,0.064,0.008],[0.075,0.068,0.007],
  [-0.082,-0.078,0.006],[-0.010,0.002,0.004],[0.006,-0.006,0.005],[0.020,0.030,0.006],
  [-0.078,-0.055,0.011],[-0.072,-0.074,0.010],[-0.066,-0.042,0.012],[-0.060,-0.064,0.009],[-0.055,-0.032,0.013],[-0.050,-0.057,0.010],[-0.046,-0.024,0.012],[-0.042,-0.050,0.011],[-0.038,-0.016,0.013],[-0.035,-0.044,0.009],
  [-0.031,-0.006,0.012],[-0.028,-0.038,0.010],[-0.025,0.002,0.011],[-0.022,-0.032,0.013],[-0.019,0.010,0.010],[-0.016,-0.030,0.012],[-0.013,0.016,0.011],[-0.010,-0.025,0.009],[-0.007,0.022,0.013],[-0.004,-0.020,0.010],
  [-0.001,0.026,0.012],[0.002,-0.016,0.011],[0.005,0.030,0.013],[0.008,-0.012,0.010],[0.011,0.034,0.012],[0.014,-0.006,0.009],[0.017,0.038,0.011],[0.020,-0.002,0.013],[0.023,0.042,0.010],[0.026,0.004,0.012],
  [0.030,0.046,0.011],[0.034,0.010,0.009],[0.038,0.052,0.013],[0.043,0.018,0.010],[0.048,0.058,0.012],[0.054,0.028,0.011],[0.060,0.066,0.010],[0.066,0.036,0.012],[0.074,0.078,0.011],[0.082,0.058,0.013],
  [-0.064,-0.080,0.011],[0.090,0.082,0.010],
  [-0.093,-0.061,0.019],[-0.090,-0.066,0.020],[-0.0757,-0.0146,0.019],[-0.072,-0.016,0.020],[-0.065,-0.035,0.018],[-0.060,-0.010,0.017],[-0.055,-0.040,0.020],[-0.050,0.000,0.019],[-0.045,-0.060,0.016],[-0.040,0.010,0.020],
  [-0.036,-0.055,0.018],[-0.027,0.040,0.020],[-0.022,-0.048,0.017],[-0.018,0.030,0.019],[-0.012,-0.042,0.020],[-0.007,-0.057,0.019],[-0.004,0.040,0.018],[0.0048,-0.039,0.020],[0.002,0.048,0.017],[0.008,-0.030,0.019],
  [0.012,0.045,0.020],[0.016,-0.028,0.018],[0.020,0.050,0.016],[0.025,-0.020,0.019],[0.030,0.055,0.020],[0.035,-0.012,0.018],[0.042,0.027,0.020],[0.046,-0.005,0.017],[0.052,0.066,0.019],[0.058,0.012,0.020],
  [0.065,0.025,0.018],[0.072,0.049,0.019],[0.078,0.034,0.020],[0.085,0.078,0.018],[0.0958,0.085,0.017],[0.080,0.060,0.016],[-0.085,-0.080,0.008],[-0.080,-0.050,0.018],[0.060,0.080,0.018],[0.070,0.015,0.017],
  [-0.030,0.020,0.020],[0.040,0.068,0.016],
];
const gamma2PointsB: number[][] = [
  [-0.070,-0.058,0.005],[-0.064,-0.058,0.003],[-0.059,-0.048,0.006],[-0.054,-0.048,0.004],[-0.049,-0.040,0.002],[-0.045,-0.041,0.005],[-0.042,-0.032,0.003],[-0.039,-0.036,0.006],[-0.036,-0.026,0.004],[-0.033,-0.030,0.002],
  [-0.030,-0.021,0.005],[-0.027,-0.025,0.003],[-0.024,-0.016,0.006],[-0.021,-0.020,0.004],[-0.018,-0.010,0.002],[-0.015,-0.014,0.005],[-0.012,-0.005,0.003],[-0.009,-0.009,0.006],[-0.006,0.000,0.004],[-0.003,-0.003,0.002],
  [0.000,0.005,0.005],[0.003,0.001,0.003],[0.006,0.009,0.006],[0.009,0.005,0.004],[0.012,0.014,0.002],[0.015,0.010,0.005],[0.018,0.019,0.003],[0.021,0.015,0.006],[0.024,0.024,0.004],[0.027,0.020,0.002],
  [0.030,0.029,0.005],[0.033,0.026,0.003],[0.037,0.035,0.006],[0.041,0.034,0.004],[0.046,0.043,0.005],[0.051,0.046,0.003],[0.057,0.054,0.006],[0.063,0.058,0.005],[0.070,0.066,0.007],[0.078,0.072,0.006],
  [-0.074,-0.062,0.010],[-0.068,-0.048,0.012],[-0.062,-0.068,0.011],[-0.057,-0.038,0.009],[-0.051,-0.054,0.013],[-0.046,-0.028,0.010],[-0.041,-0.046,0.012],[-0.037,-0.020,0.011],[-0.033,-0.040,0.009],[-0.029,-0.012,0.013],
  [-0.026,-0.034,0.010],[-0.023,-0.004,0.012],[-0.020,-0.028,0.011],[-0.017,0.004,0.009],[-0.014,-0.024,0.013],[-0.011,0.010,0.010],[-0.008,-0.018,0.012],[-0.005,0.016,0.011],[-0.002,-0.012,0.009],[0.001,0.020,0.013],
  [0.004,-0.008,0.010],[0.007,0.024,0.012],[0.010,-0.004,0.011],[0.013,0.028,0.009],[0.016,0.002,0.013],[0.019,0.032,0.010],[0.022,0.008,0.012],[0.025,0.036,0.011],[0.028,0.012,0.009],[0.032,0.040,0.013],
  [0.036,0.016,0.010],[0.040,0.046,0.012],[0.045,0.022,0.011],[0.051,0.054,0.009],[0.057,0.032,0.013],[0.064,0.070,0.010],
  [-0.052,-0.018,0.016],[-0.047,0.010,0.018],[-0.041,-0.052,0.020],[-0.034,0.025,0.017],[-0.028,-0.050,0.019],[-0.020,0.036,0.020],[-0.014,-0.038,0.016],[-0.001,0.035,0.018],[0.010,-0.034,0.019],[0.018,0.042,0.017],
  [0.022,-0.022,0.020],[0.028,0.062,0.016],[0.038,-0.010,0.018],[0.045,0.052,0.019],[0.055,0.020,0.017],[0.068,0.074,0.020],[0.075,0.040,0.016],[0.088,0.070,0.019],[-0.068,-0.025,0.017],[-0.058,-0.075,0.018],
];
const gamma2PointsC: number[][] = [
  [-0.052,-0.040,0.008],[-0.048,-0.036,0.010],[-0.045,-0.028,0.012],[-0.042,-0.022,0.014],[-0.039,-0.042,0.008],[-0.036,-0.020,0.010],[-0.033,-0.014,0.014],[-0.030,-0.034,0.007],[-0.027,-0.010,0.012],[-0.025,-0.030,0.009],
  [-0.022,-0.004,0.014],[-0.020,-0.024,0.008],[-0.018,0.002,0.012],[-0.015,-0.022,0.007],[-0.013,0.008,0.013],[-0.011,-0.016,0.008],[-0.009,0.014,0.011],[-0.007,-0.012,0.007],[-0.005,0.020,0.014],[-0.003,-0.010,0.009],
  [0.000,0.014,0.008],[0.002,-0.012,0.012],[0.004,0.020,0.009],[0.006,-0.004,0.013],[0.008,0.022,0.008],[0.010,0.000,0.011],[0.012,0.026,0.014],[0.014,0.002,0.008],[0.016,0.028,0.012],[0.018,0.004,0.009],
  [0.020,0.030,0.013],[0.022,0.010,0.008],[0.024,0.032,0.011],[0.026,0.008,0.014],[0.029,0.036,0.009],[0.031,0.016,0.012],[0.034,0.042,0.014],[0.037,0.020,0.008],[0.040,0.048,0.011],[0.043,0.028,0.009],
  [-0.035,-0.002,0.016],[-0.031,0.012,0.018],[-0.026,-0.042,0.017],[-0.021,0.020,0.019],[-0.016,-0.036,0.018],[-0.009,0.028,0.016],[-0.003,-0.030,0.019],[0.003,0.038,0.017],[0.007,-0.022,0.018],[0.014,0.044,0.016],
  [0.019,-0.012,0.019],[0.024,0.048,0.017],[0.030,-0.002,0.018],[0.036,0.056,0.016],[0.042,0.006,0.019],[0.050,0.062,0.018],[-0.044,-0.016,0.017],[-0.049,0.004,0.019],[-0.038,-0.058,0.018],[0.058,0.042,0.016],
];

const rhoValues = ['0.994', '0.782', '0.996', '0.995', '0.882', '0.881'];
const colorbarMax = [0.04, 0.04, 0.05, 0.05, 0.02, 0.02];
const colorbarTicks = [
  [0, 0.01, 0.02, 0.03, 0.04],
  [0, 0.01, 0.02, 0.03, 0.04],
  [0, 0.01, 0.02, 0.03, 0.04, 0.05],
  [0, 0.01, 0.02, 0.03, 0.04, 0.05],
  [0, 0.005, 0.01, 0.015, 0.02],
  [0, 0.005, 0.01, 0.015, 0.02],
];
const colorbarDecimals = [2, 2, 2, 2, 3, 3];
const axisTicks = [
  [0.9, 1.0, 1.1],
  [1.95, 2.0, 2.05],
  [-0.4, -0.2, 0, 0.2, 0.4],
  [-0.4, -0.2, 0, 0.2, 0.4],
  [-0.05, 0, 0.05],
  [-0.05, 0, 0.05],
];
const tickDecimals = [2, 2, 1, 1, 2, 2];
const xLimits = [[0.802, 1.194], [1.901, 2.097], [-0.592, 0.571], [-0.58, 0.585], [-0.094, 0.095], [-0.0946, 0.0964]];
const yLimits = [[0.800, 1.199], [1.902, 2.099], [-0.593, 0.58], [-0.58, 0.575], [-0.0924, 0.0934], [-0.088, 0.0978]];

const xNames = [
  '{m|θ}{s|E, true}{r|[arcsec]}',
  '{m|γ}{s|macro, true}',
  '{m|e}{s|1,true}',
  '{m|e}{s|2,true}',
  '{m|γ}{s|1,true}',
  '{m|γ}{s|2,true}',
];
const yNames = [
  '{m|θ}{s|E, pred}{r|[arcsec]}',
  '{m|γ}{s|macro, pred}',
  '{m|e}{s|1,pred}',
  '{m|e}{s|2,pred}',
  '{m|γ}{s|1,pred}',
  '{m|γ}{s|2,pred}',
];
const cbNames = [
  '{m|σ}{s|pred,}{si|θ}{ss|E}{r|[arcsec]}',
  '{m|σ}{s|pred,}{si|γ}{ss|macro}',
  '{m|σ}{s|pred,}{si|e}{ss|1}',
  '{m|σ}{s|pred,}{si|e}{ss|2}',
  '{m|σ}{s|pred,}{si|γ}{ss|1}',
  '{m|σ}{s|pred,}{si|γ}{ss|2}',
];

const panelData = [
  [...thetaEPoints, ...thetaEPointsB, ...thetaEPointsC],
  [...gammaMacroPoints, ...gammaMacroPointsB, ...gammaMacroPointsC],
  [...e1Points, ...e1PointsB, ...e1PointsC],
  [...e2Points, ...e2PointsB, ...e2PointsC],
  [...gamma1Points, ...gamma1PointsB, ...gamma1PointsC],
  [...gamma2Points, ...gamma2PointsB, ...gamma2PointsC],
].map((pts) => pts.slice().sort((a, b) => a[2] - b[2]));

const BLUES = ['#f7fbff', '#deebf7', '#c6dbef', '#9ecae1', '#6baed6', '#4292c6', '#2171b5', '#08519c', '#08306b'];
const FONT = '"Liberation Serif", "DejaVu Serif", serif';
const TXT = '#333';

const rich = {
  m: { fontFamily: FONT, fontSize: 11, fontStyle: 'italic', color: TXT, lineHeight: 14 },
  r: { fontFamily: FONT, fontSize: 10, color: TXT, lineHeight: 14 },
  s: { fontFamily: FONT, fontSize: 7.5, color: TXT, verticalAlign: 'bottom' },
  si: { fontFamily: FONT, fontSize: 7.5, fontStyle: 'italic', color: TXT, verticalAlign: 'bottom' },
  ss: { fontFamily: FONT, fontSize: 5.5, color: TXT, verticalAlign: 'bottom' },
};

const fmt = (d: number) => (v: number) => {
  const s = Math.abs(v).toFixed(d);
  return v < -1e-12 ? '\u2212' + s : s;
};

const COLS = [37, 292];
const CB_COLS = [217, 472];
const ROWS = [
  { top: 6, h: 127 },
  { top: 159, h: 128 },
  { top: 313, h: 127 },
];

function buildOption() {
  const grid: any[] = [];
  const xAxis: any[] = [];
  const yAxis: any[] = [];
  const series: any[] = [];
  const visualMap: any[] = [];
  const graphic: any[] = [];

  for (let i = 0; i < 6; i++) {
    const col = i % 2;
    const row = ROWS[Math.floor(i / 2)];
    const M = colorbarMax[i];
    grid.push({ left: COLS[col], top: row.top, width: 170, height: row.h, show: true, borderColor: '#999', borderWidth: 1, backgroundColor: 'transparent' });
    grid.push({ left: CB_COLS[col], top: row.top, width: 6, height: row.h, show: true, borderColor: '#999', borderWidth: 0.8, backgroundColor: 'transparent' });

    const labelStyle = { fontFamily: FONT, fontSize: 8.5, color: '#444' };
    const tickStyle = { show: true, length: 3, lineStyle: { color: '#777', width: 0.8 } };
    xAxis.push({
      type: 'value', gridIndex: 2 * i, min: xLimits[i][0], max: xLimits[i][1],
      axisLine: { show: false, onZero: false },
      axisTick: { ...tickStyle, customValues: axisTicks[i] },
      axisLabel: { ...labelStyle, customValues: axisTicks[i], formatter: fmt(tickDecimals[i]), margin: 5 },
      splitLine: { show: false },
      name: xNames[i], nameLocation: 'middle', nameGap: 13, nameMoveOverlap: false,
      nameTextStyle: { rich },
    });
    xAxis.push({ type: 'category', gridIndex: 2 * i + 1, data: [''], show: false });

    yAxis.push({
      type: 'value', gridIndex: 2 * i, min: yLimits[i][0], max: yLimits[i][1],
      axisLine: { show: false, onZero: false },
      axisTick: { ...tickStyle, customValues: axisTicks[i] },
      axisLabel: { ...labelStyle, customValues: axisTicks[i], formatter: fmt(tickDecimals[i]), margin: 5 },
      splitLine: { show: false },
      name: yNames[i], nameLocation: 'middle', nameGap: 17, nameRotate: 90, nameMoveOverlap: false,
      nameTextStyle: { rich },
    });
    yAxis.push({
      type: 'value', gridIndex: 2 * i + 1, position: 'right', min: 0, max: M,
      axisLine: { show: false, onZero: false },
      axisTick: { ...tickStyle, customValues: colorbarTicks[i] },
      axisLabel: { ...labelStyle, customValues: colorbarTicks[i], formatter: fmt(colorbarDecimals[i]), margin: 4 },
      splitLine: { show: false },
      name: cbNames[i], nameLocation: 'middle', nameGap: 21, nameRotate: 90, nameMoveOverlap: false,
      nameTextStyle: { rich },
    });

    const lo = Math.min(xLimits[i][0], yLimits[i][0]);
    const hi = Math.max(xLimits[i][1], yLimits[i][1]);
    series.push({
      type: 'scatter', xAxisIndex: 2 * i, yAxisIndex: 2 * i, data: panelData[i],
      symbolSize: 4, itemStyle: { opacity: 1 }, silent: true,
    });
    series.push({
      type: 'line', xAxisIndex: 2 * i, yAxisIndex: 2 * i, data: [[lo, lo], [hi, hi]],
      symbol: 'none', lineStyle: { color: '#222', width: 0.8, opacity: 0.85 }, z: 5, silent: true,
    });
    series.push({
      type: 'bar', xAxisIndex: 2 * i + 1, yAxisIndex: 2 * i + 1, data: [M], barWidth: '100%', silent: true,
      itemStyle: {
        color: new echarts.graphic.LinearGradient(0, 1, 0, 0, BLUES.map((c, k) => ({ offset: k / (BLUES.length - 1), color: c }))),
      },
    });
    visualMap.push({
      type: 'continuous', show: false, seriesIndex: 3 * i, dimension: 2, min: 0, max: M,
      inRange: { color: BLUES },
    });

    graphic.push({
      type: 'text',
      x: COLS[col] + 165,
      y: row.top + row.h - 4,
      style: {
        text: '{i|ρ} = ' + rhoValues[i],
        rich: { i: { fontFamily: FONT, fontStyle: 'italic', fontSize: 9.5, fill: TXT } },
        fontFamily: FONT, fontSize: 9, fill: TXT, align: 'right', verticalAlign: 'bottom',
      },
      z: 10,
    });
  }

  return { animation: false, backgroundColor: '#fff', grid, xAxis, yAxis, series, visualMap, graphic };
}

export default function App() {
  const ref = useRef<HTMLDivElement>(null);
  useEffect(() => {
    if (!ref.current) return;
    const chart = echarts.init(ref.current, undefined, { renderer: 'svg' });
    chart.setOption(buildOption() as any);
    return () => chart.dispose();
  }, []);
  return <div ref={ref} style={{ position: 'fixed', left: 0, top: 0, width: 514, height: 465, background: '#fff' }} />;
}
